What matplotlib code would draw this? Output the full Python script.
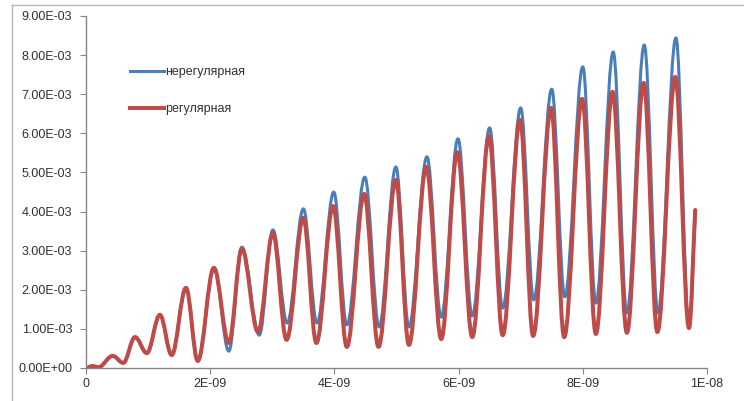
import numpy as np
import matplotlib.pyplot as plt
from matplotlib.path import Path
from matplotlib.patches import PathPatch
from matplotlib.lines import Line2D

# extrema (time in units of 1e-9 s, value in units of 1e-3)
t_start = [0.0, 0.10, 0.20, 0.43, 0.60, 0.79, 0.98, 1.19, 1.38, 1.61, 1.80]
y_start = [0.0, 0.05, 0.02, 0.31, 0.13, 0.79, 0.38, 1.36, 0.33, 2.05, 0.18]

t_blue = [2.06, 2.30, 2.51, 2.79, 3.01, 3.24, 3.50, 3.72, 3.99, 4.20, 4.49, 4.72,
          4.99, 5.20, 5.49, 5.72, 5.99, 6.22, 6.50, 6.71, 7.00, 7.21, 7.50, 7.71,
          8.00, 8.21, 8.49, 8.71, 8.99, 9.21, 9.50, 9.71, 9.81]
y_blue = [2.56, 0.43, 3.09, 0.84, 3.53, 1.15, 4.07, 1.15, 4.50, 1.10, 4.88, 1.05,
          5.14, 1.05, 5.40, 1.30, 5.86, 1.33, 6.14, 1.53, 6.65, 1.74, 7.13, 1.82,
          7.70, 1.66, 8.08, 1.41, 8.26, 1.41, 8.44, 1.05, 4.00]

t_red = [2.06, 2.30, 2.51, 2.77, 3.01, 3.23, 3.50, 3.71, 3.98, 4.20, 4.48, 4.71,
         4.99, 5.20, 5.48, 5.72, 5.98, 6.22, 6.49, 6.71, 6.99, 7.20, 7.49, 7.70,
         7.99, 8.21, 8.48, 8.71, 8.98, 9.20, 9.49, 9.71, 9.81]
y_red = [2.56, 0.64, 3.05, 0.92, 3.45, 0.72, 3.84, 0.64, 4.14, 0.54, 4.45, 0.54,
         4.81, 0.59, 5.14, 0.74, 5.52, 0.79, 5.93, 0.84, 6.34, 0.82, 6.65, 0.79,
         6.88, 0.87, 7.06, 0.90, 7.29, 0.92, 7.44, 1.02, 4.04]

x_ticks = [0, 2e-9, 4e-9, 6e-9, 8e-9, 1e-8]
x_labels = ["0", "2E-09", "4E-09", "6E-09", "8E-09", "1E-08"]
y_ticks = np.arange(10) * 1e-3
y_labels = ["%.2fE-03" % i for i in range(10)]
y_labels[0] = "0.00E+00"

label_blue = "нерегулярная"
label_red = "регулярная"
c_blue = "#4a7ebb"
c_red = "#be4b48"


def smooth_path(t, y):
    # smooth curve through the extrema, flat tangent at every turning point
    x = np.array(t) * 1e-9
    v = np.array(y) * 1e-3
    verts = [(x[0], v[0])]
    codes = [Path.MOVETO]
    for i in range(len(x) - 1):
        dx = x[i + 1] - x[i]
        c1 = (x[i] + 0.363 * dx, v[i])
        if i == len(x) - 2:
            c2 = (x[i + 1] - dx / 3, v[i + 1] - (v[i + 1] - v[i]) / 3)
        else:
            c2 = (x[i + 1] - 0.363 * dx, v[i + 1])
        verts += [c1, c2, (x[i + 1], v[i + 1])]
        codes += [Path.CURVE4] * 3
    return Path(verts, codes)


plt.rcParams['font.family'] = ['Liberation Sans', 'DejaVu Sans']

fig = plt.figure(figsize=(7.44, 4.01), dpi=100)
ax = fig.add_axes([86 / 744, 1 - 368 / 401, (707 - 86) / 744, (368 - 16) / 401])

for t, y, c, lw in [(t_start + t_blue, y_start + y_blue, c_blue, 2.2),
                    (t_start + t_red, y_start + y_red, c_red, 2.9)]:
    ax.add_patch(PathPatch(smooth_path(t, y), facecolor='none', edgecolor=c,
                           lw=lw, capstyle='round', joinstyle='round'))

ax.set_xlim(0, 1e-8)
ax.set_ylim(0, 9e-3)
ax.set_xticks(x_ticks)
ax.set_xticklabels(x_labels)
ax.set_yticks(y_ticks)
ax.set_yticklabels(y_labels)

for s in ['top', 'right']:
    ax.spines[s].set_visible(False)
for s in ['left', 'bottom']:
    ax.spines[s].set_color('#868686')
    ax.spines[s].set_linewidth(1.0)
ax.tick_params(axis='y', direction='out', length=4, color='#868686',
               labelsize=9, labelcolor='#303030', pad=6)
ax.tick_params(axis='x', direction='out', length=4, color='#868686',
               labelsize=9, labelcolor='#303030', pad=3)

handles = [Line2D([], [], color=c_blue, lw=2.2), Line2D([], [], color=c_red, lw=2.9)]
ax.legend(handles, [label_blue, label_red], loc='upper left',
          bbox_to_anchor=(130 / 744, 1 - 66 / 401), bbox_transform=fig.transFigure,
          frameon=False, fontsize=9, handlelength=2.7, handletextpad=0.15,
          labelspacing=2.0, borderpad=0, borderaxespad=0, labelcolor='#303030')

# chart area border
fig.add_artist(Line2D([12 / 744, 12 / 744], [0, 1 - 5 / 401], color='#b8b8b8', lw=1.0))
fig.add_artist(Line2D([12 / 744, 1], [1 - 5 / 401, 1 - 5 / 401], color='#b8b8b8', lw=1.0))

fig.savefig("out.png", dpi=100)
